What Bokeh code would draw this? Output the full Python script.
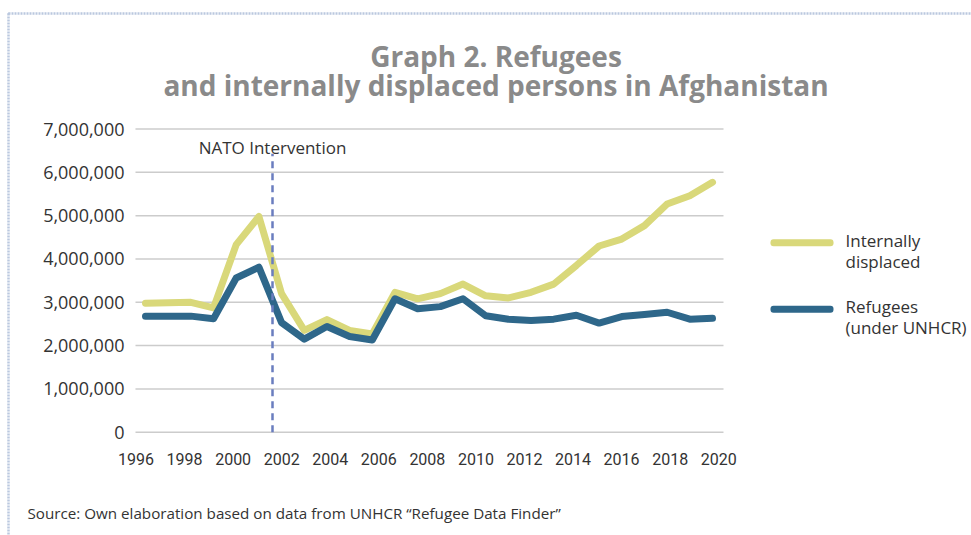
from bokeh.plotting import figure
from bokeh.models import (Range1d, LinearAxis, FixedTicker, NumeralTickFormatter,
                          Label, BoxAnnotation)
from bokeh.embed import file_html
from bokeh.resources import INLINE

# Annual figures for Afghanistan, 1996 to mid-2021
years = list(range(1996, 2022))
internally_displaced = [2980000, 2990000, 3000000, 2870000, 4330000, 4980000, 3200000,
                        2350000, 2600000, 2350000, 2270000, 3230000, 3080000, 3200000,
                        3420000, 3150000, 3100000, 3230000, 3420000, 3850000, 4300000,
                        4460000, 4770000, 5270000, 5460000, 5770000]
refugees = [2680000, 2680000, 2680000, 2620000, 3560000, 3810000, 2530000, 2150000,
            2440000, 2210000, 2130000, 3080000, 2850000, 2900000, 3080000, 2690000,
            2610000, 2580000, 2610000, 2700000, 2520000, 2670000, 2720000, 2770000,
            2610000, 2630000]
year_ticks = list(range(1996, 2021, 2))
value_ticks = list(range(0, 8000000, 1000000))
intervention_year = 2001.6

YELLOW = "#d9d87a"
BLUE = "#2e678a"
TEXT = "#333333"
W, H = 971, 535

# plotting area edges, in data units
X_LEFT, X_RIGHT = 1995.559, 2021.485
Y_BOTTOM = -76000


def sx(px):
    return px


def sy(py):
    return H - py


# the frame covers the whole canvas; axes are pinned at the plot area's edges
p = figure(width=W, height=H, output_backend="svg", toolbar_location=None,
           x_range=Range1d(1989.607, 2032.420), y_range=Range1d(-2385000, 9968000),
           x_axis_type=None, y_axis_type=None, min_border=0,
           outline_line_color=None, background_fill_color="white",
           border_fill_color="white")
p.extra_x_ranges = {"ticks": Range1d(1990.419, 2030.411)}

xaxis = LinearAxis(x_range_name="ticks", ticker=FixedTicker(ticks=year_ticks),
                   fixed_location=Y_BOTTOM)
xaxis.axis_line_color = None
xaxis.major_tick_line_color = None
xaxis.minor_tick_line_color = None
xaxis.major_tick_out = 0
xaxis.major_label_standoff = 18
xaxis.major_label_text_font = "Roboto"
xaxis.major_label_text_font_size = "16px"
xaxis.major_label_text_color = TEXT
p.add_layout(xaxis, "below")

yaxis = LinearAxis(ticker=FixedTicker(ticks=value_ticks),
                   formatter=NumeralTickFormatter(format="0,0"),
                   fixed_location=X_LEFT)
yaxis.axis_line_color = None
yaxis.major_tick_line_color = None
yaxis.minor_tick_line_color = None
yaxis.major_tick_out = 0
yaxis.major_label_standoff = 11
yaxis.major_label_text_font = "Open Sans"
yaxis.major_label_text_font_size = "18px"
yaxis.major_label_text_color = TEXT
p.add_layout(yaxis, "left")

# horizontal gridlines across the plotting area only
p.segment(x0=X_LEFT, x1=X_RIGHT, y0=value_ticks, y1=value_ticks,
          line_color="#cccccc", line_width=1.5)

p.line(years, internally_displaced, line_color=YELLOW, line_width=7,
       line_cap="round", line_join="round")
p.line(years, refugees, line_color=BLUE, line_width=7,
       line_cap="round", line_join="round")

# NATO intervention marker
p.segment(x0=[intervention_year], y0=[0], x1=[intervention_year], y1=[6430000],
          line_color="#6a7dbf", line_width=2.5, line_dash="7 5")
p.add_layout(Label(x=intervention_year, y=6564000, text="NATO Intervention",
                   text_align="center", text_baseline="middle",
                   text_font="Open Sans", text_font_size="17px", text_color=TEXT))

# title, two centred lines
for txt, mid in (("Graph 2. Refugees", 55.8),
                 ("and internally displaced persons in Afghanistan", 84.1)):
    p.add_layout(Label(x=sx(495.5), y=sy(mid), x_units="screen", y_units="screen",
                       text=txt, text_align="center", text_baseline="middle",
                       text_font="Open Sans", text_font_style="bold",
                       text_font_size="28px", text_color="#8a8a8a"))

# legend
for color, cy in ((YELLOW, 242.2), (BLUE, 308.8)):
    p.add_layout(BoxAnnotation(left=sx(770), right=sx(833), top=sy(cy - 3.5),
                               bottom=sy(cy + 3.5), left_units="screen",
                               right_units="screen", top_units="screen",
                               bottom_units="screen", fill_color=color,
                               fill_alpha=1, line_color=None, border_radius=3))
for txt, mid in (("Internally", 239.9), ("displaced", 260.9),
                 ("Refugees", 306.1), ("(under UNHCR)", 327.4)):
    p.add_layout(Label(x=sx(845), y=sy(mid), x_units="screen", y_units="screen",
                       text=txt, text_align="left", text_baseline="middle",
                       text_font="Open Sans", text_font_size="17px", text_color=TEXT))

# source note
p.add_layout(Label(x=sx(27), y=sy(512), x_units="screen", y_units="screen",
                   text="Source: Own elaboration based on data from UNHCR \u201cRefugee Data Finder\u201d",
                   text_align="left", text_baseline="middle",
                   text_font="Open Sans", text_font_size="15.2px", text_color=TEXT))

# dotted frame around the figure
p.add_layout(BoxAnnotation(left=sx(8), right=sx(1000), top=sy(13), bottom=sy(600),
                           left_units="screen", right_units="screen",
                           top_units="screen", bottom_units="screen",
                           fill_alpha=0, line_color="#1a4896", line_width=2.5,
                           line_dash="2 1"))

open("out.html", "w").write(file_html(p, INLINE))
